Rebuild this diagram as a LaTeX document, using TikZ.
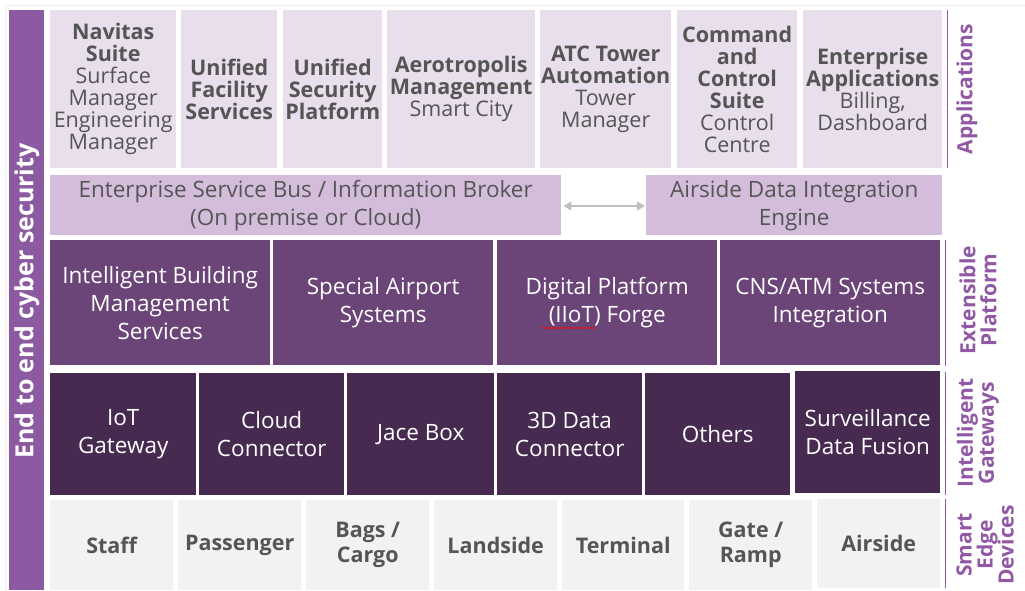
\documentclass[tikz,border=0pt]{standalone}
\usepackage{fontspec}
\setmainfont{Open Sans}
\usetikzlibrary{arrows.meta,decorations.pathmorphing}
\definecolor{barpurple}{RGB}{140,90,160}
\definecolor{applight}{RGB}{232,222,236}
\definecolor{esbcol}{RGB}{211,189,219}
\definecolor{extcol}{RGB}{107,69,119}
\definecolor{gatecol}{RGB}{70,42,80}
\definecolor{edgecol}{RGB}{242,242,242}
\definecolor{txtgray}{RGB}{85,85,85}
\definecolor{lblpurple}{RGB}{145,89,165}
\definecolor{arrgray}{RGB}{191,191,191}
\definecolor{framegray}{RGB}{238,238,238}
\begin{document}
\begin{tikzpicture}[x=1pt,y=-1pt,
  cell/.style={anchor=north west,inner sep=0pt,align=center,text=txtgray},
  appbox/.style={cell,fill=applight,font=\fontsize{21.5}{22}\selectfont},
  esbbox/.style={cell,fill=esbcol,font=\fontsize{22.5}{28}\selectfont},
  extbox/.style={cell,fill=extcol,text=white,font=\fontsize{22.5}{28}\selectfont},
  gatebox/.style={cell,fill=gatecol,text=white,font=\fontsize{22.5}{28}\selectfont},
  edgebox/.style={cell,fill=edgecol,font=\fontsize{21.5}{25}\selectfont\bfseries},
  sidelbl/.style={rotate=90,align=center,text=lblpurple,font=\fontsize{21}{21}\selectfont\bfseries},
  sideline/.style={draw=lblpurple,line width=0.8pt}]
\useasboundingbox (0,0) rectangle (1025,591);
\draw[framegray,line width=1pt] (5,591) -- (5,6) -- (1025,6);
% left bar
\node[anchor=north west,fill=barpurple,minimum width=35pt,minimum height=580pt,inner sep=0pt] (bar) at (9,10) {};
\node[rotate=90,text=white,font=\fontsize{25}{26}\selectfont\bfseries] (sec) at (27,301) {End to end cyber security};
% applications
\node[appbox,minimum width=126pt,minimum height=158pt] (nav) at (50,10) {\textbf{Navitas}\\\textbf{Suite}\\Surface\\Manager\\Engineering\\Manager};
\node[appbox,minimum width=96pt,minimum height=158pt] (ufs) at (181,10) {\textbf{Unified}\\\textbf{Facility}\\\textbf{Services}};
\node[appbox,minimum width=99pt,minimum height=158pt] (usp) at (283,10) {\textbf{Unified}\\\textbf{Security}\\\textbf{Platform}};
\node[appbox,minimum width=148pt,minimum height=158pt] (aero) at (387,10) {\textbf{Aerotropolis}\\\textbf{Management}\\Smart City};
\node[appbox,minimum width=131pt,minimum height=158pt] (atc) at (540,10) {\textbf{ATC Tower}\\\textbf{Automation}\\Tower\\Manager};
\node[appbox,minimum width=120pt,minimum height=158pt] (cmd) at (677,10) {\textbf{Command}\\\textbf{and}\\\textbf{Control}\\\textbf{Suite}\\Control\\Centre};
\node[appbox,minimum width=139pt,minimum height=158pt] (ent) at (803,10) {\textbf{Enterprise}\\\textbf{Applications}\\Billing,\\Dashboard};
% ESB row
\node[esbbox,minimum width=511pt,minimum height=60pt] (esb) at (50,175) {Enterprise Service Bus / Information Broker\\(On premise or Cloud)};
\node[esbbox,minimum width=296pt,minimum height=60pt] (ade) at (646,175) {Airside Data Integration\\Engine};
\draw[arrgray,line width=1.2pt,{Triangle[length=8pt,width=9pt]}-{Triangle[length=8pt,width=9pt]},shorten <=2pt,shorten >=1pt] (esb.east |- 0,206) -- (ade.west |- 0,206);
% extensible platform
\node[extbox,minimum width=220pt,minimum height=125pt] (ibms) at (50,240) {Intelligent Building\\Management\\Services};
\node[extbox,minimum width=220pt,minimum height=125pt] (spec) at (273,240) {Special Airport\\Systems};
\node[extbox,minimum width=220pt,minimum height=125pt] (dig) at (497,240) {Digital Platform\\(IIoT) Forge};
\node[extbox,minimum width=220pt,minimum height=125pt] (cns) at (720,240) {CNS/ATM Systems\\Integration};
\draw[red,line width=0.6pt,decorate,decoration={snake,amplitude=0.8pt,segment length=3pt}] (542,328) -- (596,328);
% intelligent gateways
\node[gatebox,minimum width=146pt,minimum height=122pt] (iot) at (50,373) {IoT\\Gateway};
\node[gatebox,minimum width=145pt,minimum height=122pt] (cloud) at (199,373) {Cloud\\Connector};
\node[gatebox,minimum width=147pt,minimum height=122pt] (jace) at (347,373) {Jace Box};
\node[gatebox,minimum width=145pt,minimum height=122pt] (d3) at (497,373) {3D Data\\Connector};
\node[gatebox,minimum width=145pt,minimum height=122pt] (oth) at (645,373) {Others};
\node[gatebox,minimum width=145pt,minimum height=122pt] (surv) at (795,371) {Surveillance\\Data Fusion};
% smart edge devices
\node[edgebox,minimum width=123pt,minimum height=90pt] (staff) at (50,500) {Staff};
\node[edgebox,minimum width=123pt,minimum height=90pt] (pass) at (178,500) {Passenger};
\node[edgebox,minimum width=123pt,minimum height=90pt] (bags) at (306,500) {Bags /\\Cargo};
\node[edgebox,minimum width=123pt,minimum height=90pt] (land) at (434,500) {Landside};
\node[edgebox,minimum width=122pt,minimum height=90pt] (term) at (562,500) {Terminal};
\node[edgebox,minimum width=123pt,minimum height=90pt] (gate) at (689,500) {Gate /\\Ramp};
\node[edgebox,minimum width=123pt,minimum height=89pt] (air) at (817,499) {Airside};
% side labels
\draw[sideline] (947,10) -- (947,168);
\draw[sideline] (945,240) -- (945,366);
\draw[sideline] (945,372) -- (945,495);
\draw[sideline] (945,499) -- (945,588);
\node[sidelbl] (lapp) at (967,89) {Applications};
\node[sidelbl] (lext) at (978,300) {Extensible\\Platform};
\node[sidelbl] (lgate) at (978,433) {Intelligent\\Gateways};
\node[sidelbl] (ledge) at (985,545) {Smart\\Edge\\Devices};
\end{tikzpicture}
\end{document}
